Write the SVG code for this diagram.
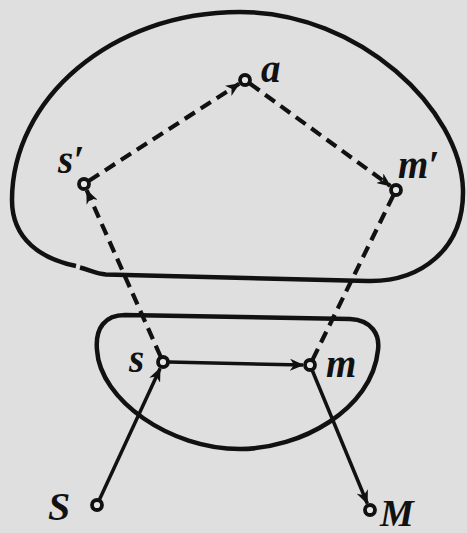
<svg xmlns="http://www.w3.org/2000/svg" width="467" height="533" viewBox="0 0 467 533">
<style>
.outline{fill:none;stroke:#111;stroke-width:4.5;stroke-linecap:butt;stroke-linejoin:round}
.solid{fill:none;stroke:#111;stroke-width:3.5}
.dash{fill:none;stroke:#111;stroke-width:4.2;stroke-dasharray:12 7}
.node{fill:#e6e6e6;stroke:#111;stroke-width:3.8}
.lbl{font-family:"Liberation Serif","DejaVu Serif",serif;font-style:italic;font-weight:bold;font-size:39px;fill:#111}
</style>
<defs>
<marker id="arr" viewBox="0 0 14 12" refX="13" refY="6" markerWidth="14" markerHeight="12" markerUnits="userSpaceOnUse" orient="auto">
<path d="M0,0 L14,6 L0,12 L4,6 z" fill="#111"/>
</marker>
</defs>
<rect width="467" height="533" fill="#dfdfdf"/>
<g id="outer-region">
<path class="outline" d="M80,267.5 C90,270 96,274 106,274.5 L368,281 C420,282 464,250 463,190 C461,110 360,12 240,12 C110,12 12,100 12,200 C12,240 42,259 76,266"/>
</g>
<g id="inner-region">
<path class="outline" d="M125,315 L350,319 C372,320 380,335 378,350 C372,410 300,449 240,449 C170,449 100,400 97,350 C95,328 105,315 125,315 Z"/>
</g>
<g id="connectors">
<line class="solid" x1="99.5" y1="499.5" x2="160.1" y2="368.4" marker-end="url(#arr)"/>
<line class="solid" x1="169" y1="362" x2="303" y2="365" marker-end="url(#arr)"/>
<line class="solid" x1="312.3" y1="370.5" x2="367.3" y2="503.5" marker-end="url(#arr)"/>
<line class="dash" x1="160.6" y1="356.5" x2="86.8" y2="190.4" marker-end="url(#arr)"/>
<line class="dash" x1="89" y1="180.7" x2="239.1" y2="83.8" marker-end="url(#arr)"/>
<line class="dash" x1="249.8" y1="83.5" x2="390.3" y2="185.9" marker-end="url(#arr)"/>
<line class="dash" x1="312.6" y1="359.6" x2="393.4" y2="195.3"/>
</g>
<g id="node-a"><circle class="node" cx="245" cy="80" r="5"/><text class="lbl" x="261" y="82">a</text></g>
<g id="node-s-prime"><circle class="node" cx="84" cy="184" r="5"/><text class="lbl" x="58" y="173">s′</text></g>
<g id="node-m-prime"><circle class="node" cx="396" cy="190" r="5"/><text class="lbl" x="398" y="178">m′</text></g>
<g id="node-s"><circle class="node" cx="163" cy="362" r="5"/><text class="lbl" x="129" y="372">s</text></g>
<g id="node-m"><circle class="node" cx="310" cy="365" r="5"/><text class="lbl" x="326" y="377">m</text></g>
<g id="node-S"><circle class="node" cx="97" cy="505" r="5"/><text class="lbl" x="48" y="520" style="font-size:40px">S</text></g>
<g id="node-M"><circle class="node" cx="370" cy="510" r="5"/><text class="lbl" x="380" y="526" style="font-size:38px">M</text></g>
</svg>
